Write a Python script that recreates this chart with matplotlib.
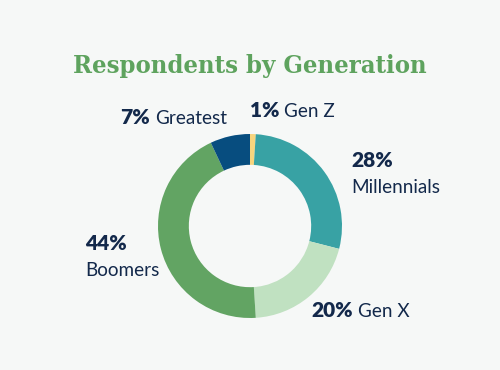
import matplotlib
matplotlib.use("Agg")
import matplotlib.pyplot as plt

generations = ["Gen Z", "Millennials", "Gen X", "Boomers", "Greatest"]
shares = [1, 28, 20, 44, 7]
colors = ["#F7D57E", "#38A2A4", "#C0E1C1", "#62A463", "#074D7F"]

bg = "#F6F8F7"
navy = "#13294B"
title_green = "#5EA35E"

fig = plt.figure(figsize=(5, 3.7), dpi=100, facecolor=bg)
W, H = 500, 370

ax = fig.add_axes([158 / W, (H - 318) / H, 184 / W, 184 / H])
ax.set_facecolor(bg)
ax.pie(shares, colors=colors, startangle=90, counterclock=False,
       radius=1, wedgeprops=dict(width=0.335, edgecolor="none"))
ax.set_xlim(-1, 1)
ax.set_ylim(-1, 1)
ax.set_aspect("equal")
ax.axis("off")

fig.text(250 / W, 1 - 73 / H, "Respondents by Generation", ha="center",
         va="baseline", fontsize=18.3, fontweight="bold", color=title_green,
         family="DejaVu Serif", fontstretch="condensed")

fs_name = 13.6
fs_pct = 15
renderer = fig.canvas.get_renderer()


def label(x, y, pct, name, newline=False, dy=26):
    t = fig.text(x / W, 1 - y / H, f"{pct}%", ha="left", va="baseline",
                 fontsize=fs_pct, fontweight="heavy", color=navy, family="Lato")
    if newline:
        fig.text(x / W, 1 - (y + dy) / H, name, ha="left", va="baseline",
                 fontsize=fs_name, color=navy, family="Lato")
    else:
        bb = t.get_window_extent(renderer)
        fig.text((bb.x1 + 5) / W, 1 - y / H, name, ha="left", va="baseline",
                 fontsize=fs_name, color=navy, family="Lato")


pos = {
    "Gen Z": (250, 117, False),
    "Millennials": (351, 167, True),
    "Gen X": (311, 317, False),
    "Boomers": (85, 250, True),
    "Greatest": (120, 124, False),
}
for g, s in zip(generations, shares):
    x, y, nl = pos[g]
    label(x, y, s, g, nl)

fig.savefig("out.png", dpi=100, facecolor=bg)
